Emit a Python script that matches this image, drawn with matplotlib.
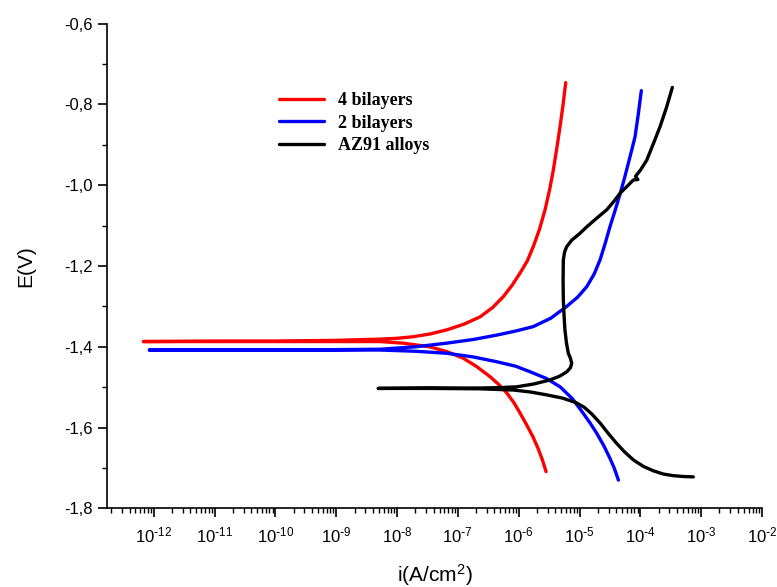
import numpy as np
import matplotlib
matplotlib.use("Agg")
import matplotlib.pyplot as plt
from matplotlib.ticker import MultipleLocator, FuncFormatter, LogLocator

plt.rcParams['font.family'] = ['Liberation Sans', 'DejaVu Sans']
plt.rcParams['mathtext.default'] = 'regular'

# log10 of current density (A/cm2) and potential (V)
# each curve: cathodic branch upwards, out to the flat part, then anodic branch upwards
red_logi = [-5.55, -5.61, -5.68, -5.765, -5.87, -5.978, -6.08, -6.197, -6.33, -6.47, -6.7, -6.915,
            -7.18, -7.46, -7.9, -8.28, -9.0, -10.0, -11.0, -12.17,
            -11.0, -10.0, -9.0, -8.28, -8.0, -7.73, -7.45, -7.18, -6.9, -6.636, -6.43, -6.253,
            -6.11, -5.98, -5.86, -5.76, -5.66, -5.567, -5.49, -5.43, -5.375, -5.32, -5.27, -5.227]
red_E = [-1.709, -1.680, -1.652, -1.623, -1.593, -1.564, -1.538, -1.514, -1.493, -1.474, -1.448, -1.428,
         -1.412, -1.400, -1.391, -1.387, -1.387, -1.387, -1.387, -1.387,
         -1.386, -1.386, -1.384, -1.381, -1.379, -1.375, -1.368, -1.358, -1.344, -1.326, -1.303, -1.276,
         -1.248, -1.218, -1.188, -1.152, -1.110, -1.061, -1.010, -0.962, -0.910, -0.855, -0.800, -0.746]

blue_logi = [-4.36, -4.43, -4.50, -4.60, -4.717, -4.82, -4.937, -5.12, -5.32, -5.55, -5.81, -6.05,
             -6.36, -6.75, -7.183, -7.7, -8.276, -9.0, -10.0, -11.0, -12.07,
             -11.0, -10.0, -9.0, -8.276, -7.7, -7.183, -6.75, -6.36, -6.05, -5.76, -5.47, -5.21,
             -5.03, -4.88, -4.76, -4.663, -4.58, -4.50, -4.41, -4.33, -4.26, -4.198, -4.14, -4.087,
             -4.03, -3.984]
blue_E = [-1.730, -1.700, -1.676, -1.645, -1.614, -1.590, -1.565, -1.528, -1.499, -1.478, -1.462, -1.448,
          -1.437, -1.425, -1.416, -1.411, -1.408, -1.408, -1.408, -1.408, -1.408,
          -1.408, -1.408, -1.407, -1.406, -1.400, -1.391, -1.382, -1.371, -1.361, -1.350, -1.329, -1.300,
          -1.277, -1.251, -1.220, -1.185, -1.145, -1.103, -1.060, -1.020, -0.982, -0.946, -0.912, -0.880,
          -0.820, -0.766]

black_logi = [-3.13, -3.30, -3.458, -3.62, -3.787, -3.95, -4.115, -4.26, -4.39, -4.53, -4.66, -4.80,
              -4.92, -5.06, -5.28, -5.54, -5.80, -6.088, -6.636, -7.5, -8.31,
              -7.5, -6.636, -6.30, -6.03, -5.75, -5.485, -5.33, -5.21, -5.15, -5.128, -5.15, -5.184,
              -5.215, -5.24, -5.255, -5.266, -5.27, -5.266, -5.245, -5.21, -5.128, -5.00, -4.88,
              -4.72, -4.553, -4.44, -4.334, -4.22, -4.115, -4.04, -4.08, -4.0, -3.895, -3.78, -3.676,
              -3.567, -3.474]
black_E = [-1.722, -1.721, -1.719, -1.715, -1.707, -1.696, -1.680, -1.660, -1.639, -1.614, -1.589, -1.566,
           -1.550, -1.538, -1.527, -1.519, -1.512, -1.507, -1.504, -1.503, -1.503,
           -1.502, -1.502, -1.501, -1.499, -1.492, -1.482, -1.473, -1.462, -1.452, -1.441, -1.428, -1.416,
           -1.390, -1.358, -1.320, -1.284, -1.235, -1.185, -1.165, -1.152, -1.136, -1.120, -1.103,
           -1.082, -1.061, -1.041, -1.020, -1.003, -0.987, -0.986, -0.978, -0.963, -0.938, -0.895, -0.855,
           -0.806, -0.758]

labels = ["4 bilayers", "2 bilayers", "AZ91 alloys"]
colors = ["#ff0000", "#0000ff", "#000000"]

fig = plt.figure(figsize=(7.77, 5.87), dpi=100)
ax = fig.add_axes([0.1377, 0.1339, 0.843, 0.8259])

for lx, ly, lab, c in zip([red_logi, blue_logi, black_logi], [red_E, blue_E, black_E], labels, colors):
    ax.plot(10 ** np.array(lx), ly, color=c, lw=2.4, label=lab,
            solid_capstyle='round', solid_joinstyle='round')

ax.set_xscale('log')
ax.set_xlim(10 ** -12.768, 1e-2)
ax.set_ylim(-1.8, -0.6)

ax.xaxis.set_major_locator(LogLocator(base=10, numticks=20))
ax.xaxis.set_minor_locator(LogLocator(base=10, subs=np.arange(2, 10), numticks=20))
ax.xaxis.set_major_formatter(FuncFormatter(
    lambda v, p: r'$10^{\text{-}%d}$' % abs(round(np.log10(v)))))
ax.yaxis.set_major_locator(MultipleLocator(0.2))
ax.yaxis.set_minor_locator(MultipleLocator(0.1))
ax.yaxis.set_major_formatter(FuncFormatter(lambda v, p: ('%.1f' % v).replace('.', ',')))

for s in ['top', 'right']:
    ax.spines[s].set_visible(False)
for s in ['left', 'bottom']:
    ax.spines[s].set_linewidth(1.2)

ax.tick_params(which='major', direction='out', length=6.5, width=1.2, labelsize=12)
ax.tick_params(which='minor', direction='out', length=3.5, width=1.0)
ax.tick_params(axis='x', which='major', pad=6)

ax.set_xlabel('i(A/cm$^2$)', fontsize=15)
ax.set_ylabel('E(V)', fontsize=15)
ax.xaxis.set_label_coords(0.50, -0.11)
ax.yaxis.set_label_coords(-0.11, 0.5)

ax.legend(loc='upper left', bbox_to_anchor=(0.238, 0.892), frameon=False,
          prop={'family': 'Liberation Serif', 'weight': 'bold', 'size': 13},
          handlelength=2.5, handletextpad=0.78, labelspacing=0.3)

fig.savefig('out.png', dpi=100)
